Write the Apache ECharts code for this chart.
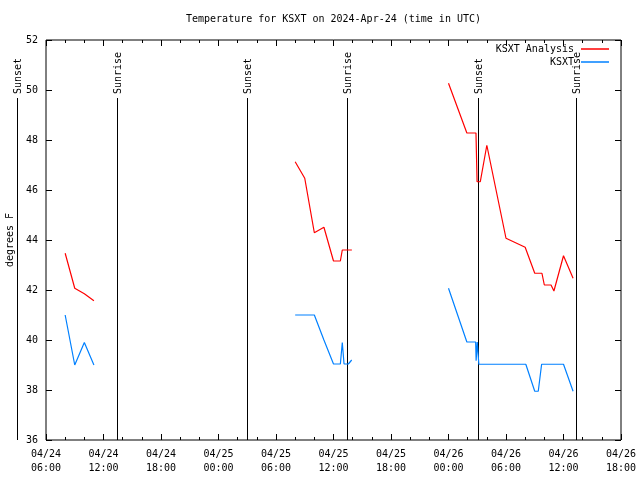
<!DOCTYPE html>
<html><head><meta charset="utf-8">
<script src="https://cdn.jsdelivr.net/npm/echarts@6/dist/echarts.min.js"></script>
<style>html,body{margin:0;padding:0;background:#fff}#c{width:640px;height:480px}</style>
</head><body><div id="c"></div>
<script>
// ---- data (UTC) ----
const analysisTimes1 = ['2024-04-24T08:00Z','2024-04-24T09:00Z','2024-04-24T10:00Z','2024-04-24T11:00Z'];
const analysisTemps1 = [43.47, 42.07, 41.85, 41.57];
const analysisTimes2 = ['2024-04-25T08:00Z','2024-04-25T09:00Z','2024-04-25T10:00Z','2024-04-25T11:00Z','2024-04-25T12:00Z','2024-04-25T12:43Z','2024-04-25T12:55Z','2024-04-25T13:55Z'];
const analysisTemps2 = [47.13, 46.47, 44.29, 44.51, 43.16, 43.16, 43.6, 43.6];
const analysisTimes3 = ['2024-04-26T00:00Z','2024-04-26T01:55Z','2024-04-26T02:52Z','2024-04-26T02:59Z','2024-04-26T03:19Z','2024-04-26T04:00Z','2024-04-26T06:00Z','2024-04-26T07:00Z','2024-04-26T08:00Z','2024-04-26T09:00Z','2024-04-26T09:45Z','2024-04-26T10:00Z','2024-04-26T10:42Z','2024-04-26T11:00Z','2024-04-26T12:00Z','2024-04-26T13:00Z'];
const analysisTemps3 = [50.27, 48.28, 48.28, 46.33, 46.33, 47.79, 44.07, 43.89, 43.71, 42.67, 42.67, 42.2, 42.2, 41.96, 43.37, 42.47];

const obsTimes1 = ['2024-04-24T08:00Z','2024-04-24T09:00Z','2024-04-24T10:00Z','2024-04-24T11:00Z'];
const obsTemps1 = [41.0, 39.0, 39.9, 39.0];
const obsTimes2 = ['2024-04-25T08:00Z','2024-04-25T10:00Z','2024-04-25T11:00Z','2024-04-25T12:00Z','2024-04-25T12:43Z','2024-04-25T12:55Z','2024-04-25T13:06Z','2024-04-25T13:33Z','2024-04-25T13:54Z'];
const obsTemps2 = [41.0, 41.0, 40.0, 39.04, 39.04, 39.9, 39.04, 39.04, 39.2];
const obsTimes3 = ['2024-04-26T00:00Z','2024-04-26T01:55Z','2024-04-26T02:50Z','2024-04-26T02:53Z','2024-04-26T03:00Z','2024-04-26T03:10Z','2024-04-26T08:04Z','2024-04-26T09:00Z','2024-04-26T09:22Z','2024-04-26T09:43Z','2024-04-26T12:00Z','2024-04-26T13:00Z'];
const obsTemps3 = [42.07, 39.92, 39.92, 39.17, 39.92, 39.03, 39.03, 37.95, 37.95, 39.03, 39.03, 37.95];

const sunTimes = ['2024-04-24T02:58Z','2024-04-24T13:25Z','2024-04-25T02:58Z','2024-04-25T13:25Z','2024-04-26T03:05Z','2024-04-26T13:19Z'];
const sunLabels = ['Sunset','Sunrise','Sunset','Sunrise','Sunset','Sunrise'];

const yTicks = [36, 38, 40, 42, 44, 46, 48, 50, 52];
const xMinH = 6, xMaxH = 66, xStepH = 6;   // hours since 2024-04-24 00:00 UTC

// ---- helpers ----
const base = Date.parse('2024-04-24T00:00:00Z');
const toH = s => (Date.parse(s) - base) / 3600000;
const pair = (ts, vs) => ts.map((t, i) => [toH(t), vs[i]]);
const pad = n => (n < 10 ? '0' : '') + n;
const FONT = '"DejaVu Sans Mono", "Liberation Mono", monospace';
const RED = '#ff0000', BLUE = '#0080ff';

const chart = echarts.init(document.getElementById('c'), null, {renderer: 'canvas'});

function seg(name, data, color) {
  return {name, type: 'line', data, symbol: 'none', showSymbol: false,
    lineStyle: {color, width: 1.2}, itemStyle: {color}, animation: false, z: 3};
}
const xCommon = {
  type: 'value', min: xMinH, max: xMaxH, interval: xStepH,
  axisLine: {show: false}, splitLine: {show: false},
  axisTick: {show: true, inside: true, length: 6, lineStyle: {color: '#000'}},
  minorTick: {show: true, splitNumber: 3, length: 3, lineStyle: {color: '#000'}},
};
const yCommon = {
  type: 'value', min: yTicks[0], max: yTicks[yTicks.length - 1], interval: 2,
  axisLine: {show: false}, splitLine: {show: false},
  axisTick: {show: true, inside: true, length: 6, lineStyle: {color: '#000'}},
};

chart.setOption({
  backgroundColor: '#fff',
  animation: false,
  title: {text: 'Temperature for KSXT on 2024-Apr-24 (time in UTC)', left: 186, top: 14, padding: 0,
    textStyle: {fontFamily: FONT, fontSize: 10, fontWeight: 'normal', color: '#000'}},
  legend: {data: [{name: 'KSXT Analysis', icon: 'rect'}, {name: 'KSXT', icon: 'rect'}],
    orient: 'vertical', align: 'right', right: 31, top: 44, padding: 0,
    itemWidth: 28, itemHeight: 1.5, itemGap: 3,
    textStyle: {fontFamily: FONT, fontSize: 10, color: '#000', padding: [0, 2, 0, 0]}},
  grid: {left: 46, right: 19, top: 40, bottom: 40, outerBoundsMode: 'none', containLabel: false,
    show: true, borderColor: '#000', borderWidth: 1, backgroundColor: 'transparent'},
  xAxis: [
    Object.assign({}, xCommon, {position: 'bottom',
      axisLabel: {margin: 7, fontFamily: FONT, fontSize: 10, color: '#000', lineHeight: 14,
        formatter: v => '04/' + (24 + Math.floor(v / 24)) + '\n' + pad(v % 24) + ':00'}}),
    Object.assign({}, xCommon, {position: 'top', axisLabel: {show: false}})
  ],
  yAxis: [
    Object.assign({}, yCommon, {position: 'left', name: 'degrees F', nameLocation: 'middle', nameGap: 31,
      nameTextStyle: {fontFamily: FONT, fontSize: 10, color: '#000'},
      axisLabel: {margin: 8, fontFamily: FONT, fontSize: 10, color: '#000'}}),
    Object.assign({}, yCommon, {position: 'right', axisLabel: {show: false}})
  ],
  series: [
    seg('KSXT Analysis', pair(analysisTimes1, analysisTemps1), RED),
    seg('KSXT Analysis', pair(analysisTimes2, analysisTemps2), RED),
    seg('KSXT Analysis', pair(analysisTimes3, analysisTemps3), RED),
    seg('KSXT', pair(obsTimes1, obsTemps1), BLUE),
    seg('KSXT', pair(obsTimes2, obsTemps2), BLUE),
    seg('KSXT', pair(obsTimes3, obsTemps3), BLUE),
  ]
});

// sunrise / sunset markers
const yBottom = chart.convertToPixel({yAxisIndex: 0}, yTicks[0]);
const yTopPx = chart.convertToPixel({yAxisIndex: 0}, yTicks[yTicks.length - 1]);
const elems = [];
sunTimes.forEach((t, i) => {
  const x = Math.round(chart.convertToPixel({xAxisIndex: 0}, toH(t))) + 0.5;
  elems.push({type: 'line', silent: true, z: 2,
    shape: {x1: x, y1: yTopPx + 58, x2: x, y2: yBottom},
    style: {stroke: '#000', lineWidth: 1}});
  elems.push({type: 'text', silent: true, z: 2, x: x + 1, y: yTopPx + 54, rotation: Math.PI / 2,
    style: {text: sunLabels[i], fontFamily: FONT, fontSize: 10, fill: '#000', align: 'left', verticalAlign: 'middle'}});
});
chart.setOption({graphic: elems});
</script></body></html>
